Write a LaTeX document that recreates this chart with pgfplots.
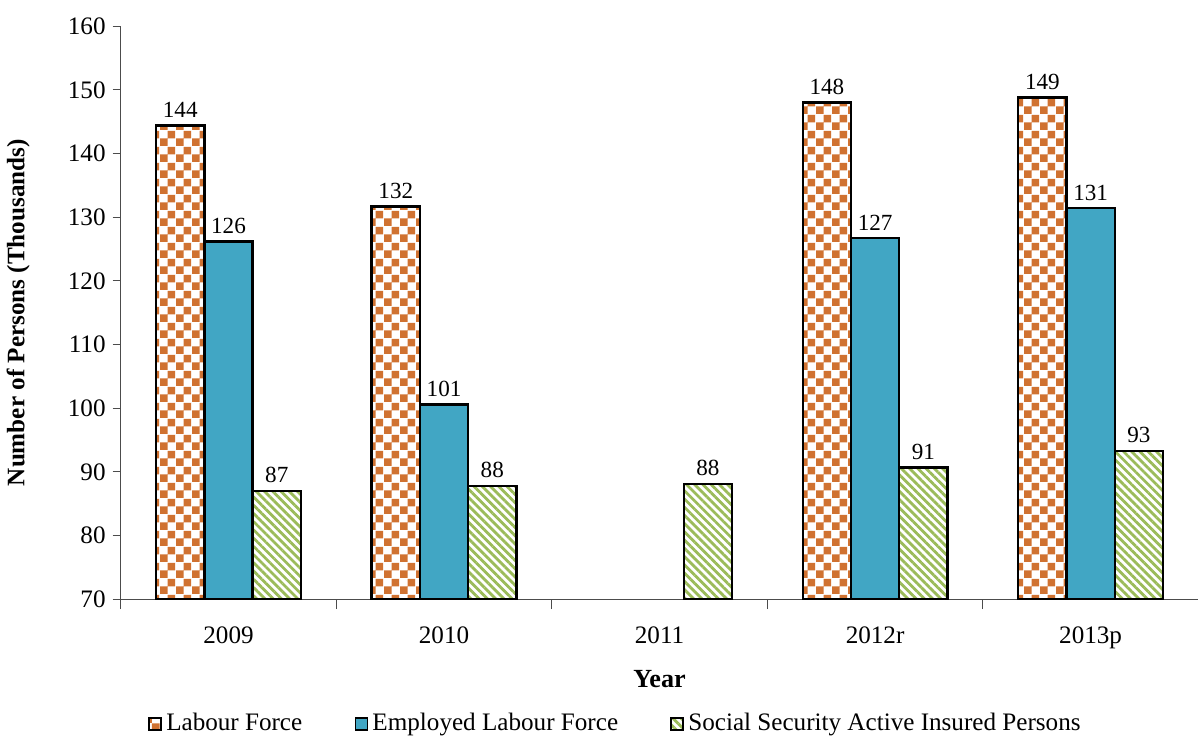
\documentclass[border=0pt]{standalone}
\usepackage{pgfplots}
\pgfplotsset{compat=1.18}
\usepackage{fontspec}
\setmainfont{Liberation Serif}
\usetikzlibrary{patterns,patterns.meta}
\definecolor{lforange}{HTML}{D07231}
\definecolor{elfblue}{HTML}{41A6C4}
\definecolor{ssgreen}{HTML}{9BBB59}
\pgfdeclarepatternformonly{mychecker}{\pgfqpoint{0pt}{0pt}}{\pgfqpoint{8pt}{8pt}}{\pgfqpoint{8pt}{8pt}}{%
  \pgfpathrectangle{\pgfqpoint{0pt}{0pt}}{\pgfqpoint{4pt}{4pt}}%
  \pgfpathrectangle{\pgfqpoint{4pt}{4pt}}{\pgfqpoint{4pt}{4pt}}%
  \pgfusepath{fill}}
\begin{document}
\begin{tikzpicture}
\begin{axis}[
  name=ax,
  scale only axis,
  width=536pt, height=285pt,
  ybar=0pt, bar width=24pt,
  xmin=-0.5, xmax=4.5,
  ymin=70, ymax=160,
  ytick={70,80,...,160},
  xtick={0,1,2,3,4},
  xticklabels={2009,2010,2011,2012r,2013p},
  minor xtick={-0.5,0.5,1.5,2.5,3.5},
  major x tick style={draw=none},
  minor x tick style={draw=black!70, line width=0.6pt},
  minor tick length=5pt,
  x tick label style={yshift=-6pt},
  axis x line=bottom, axis y line=left,
  axis line style={-, draw=black!70, line width=0.6pt},
  y tick style={draw=black!70, line width=0.6pt},
  tick align=outside, major tick length=4pt,
  tick label style={font=\fontsize{12.5}{14}\selectfont},
  /pgf/number format/assume math mode=true,
  ylabel={\bfseries Number of Persons (Thousands)},
  ylabel style={font=\fontsize{12.5}{14}\selectfont, at={(rel axis cs:0,0.5)}, anchor=center, yshift=51pt},
  xlabel={\bfseries Year},
  xlabel style={font=\fontsize{13}{15}\selectfont, at={(rel axis cs:0.5,0)}, yshift=-40pt, anchor=center},
  nodes near coords,
  nodes near coords style={font=\fontsize{11.5}{13}\selectfont,
    /pgf/number format/fixed, /pgf/number format/precision=0,
    /pgf/number format/assume math mode=true},
  legend columns=3,
  legend style={at={(rel axis cs:0.46,-0.2175)}, anchor=center, draw=none, font=\fontsize{12.5}{15}\selectfont,
    inner sep=0pt,
    /tikz/every even column/.append style={column sep=24pt}},
  legend image code/.code={\draw[#1, draw=black, line width=0.9pt] (0pt,-3pt) rectangle (6pt,3pt);},
  clip=false,
]
\addplot[draw=black, line width=1.2pt, pattern=mychecker, pattern color=lforange]
  coordinates {(0,144.4) (1,131.7) (3,148.0) (4,148.8)};
\addlegendentry{Labour Force}
\addplot[draw=black, line width=1.2pt, fill=elfblue]
  coordinates {(0,126.2) (1,100.6) (3,126.7) (4,131.4)};
\addlegendentry{Employed Labour Force}
\addplot[draw=black, line width=1.2pt, pattern={Lines[angle=-45, distance=2.9pt, line width=1.4pt]}, pattern color=ssgreen]
  coordinates {(0,87.0) (1,87.8) (2,88.1) (3,90.7) (4,93.3)};
\addlegendentry{Social Security Active Insured Persons}
\end{axis}
\path[draw=none] ([yshift=13pt]ax.north west) rectangle ([yshift=12pt]ax.north east);
\end{tikzpicture}
\end{document}
